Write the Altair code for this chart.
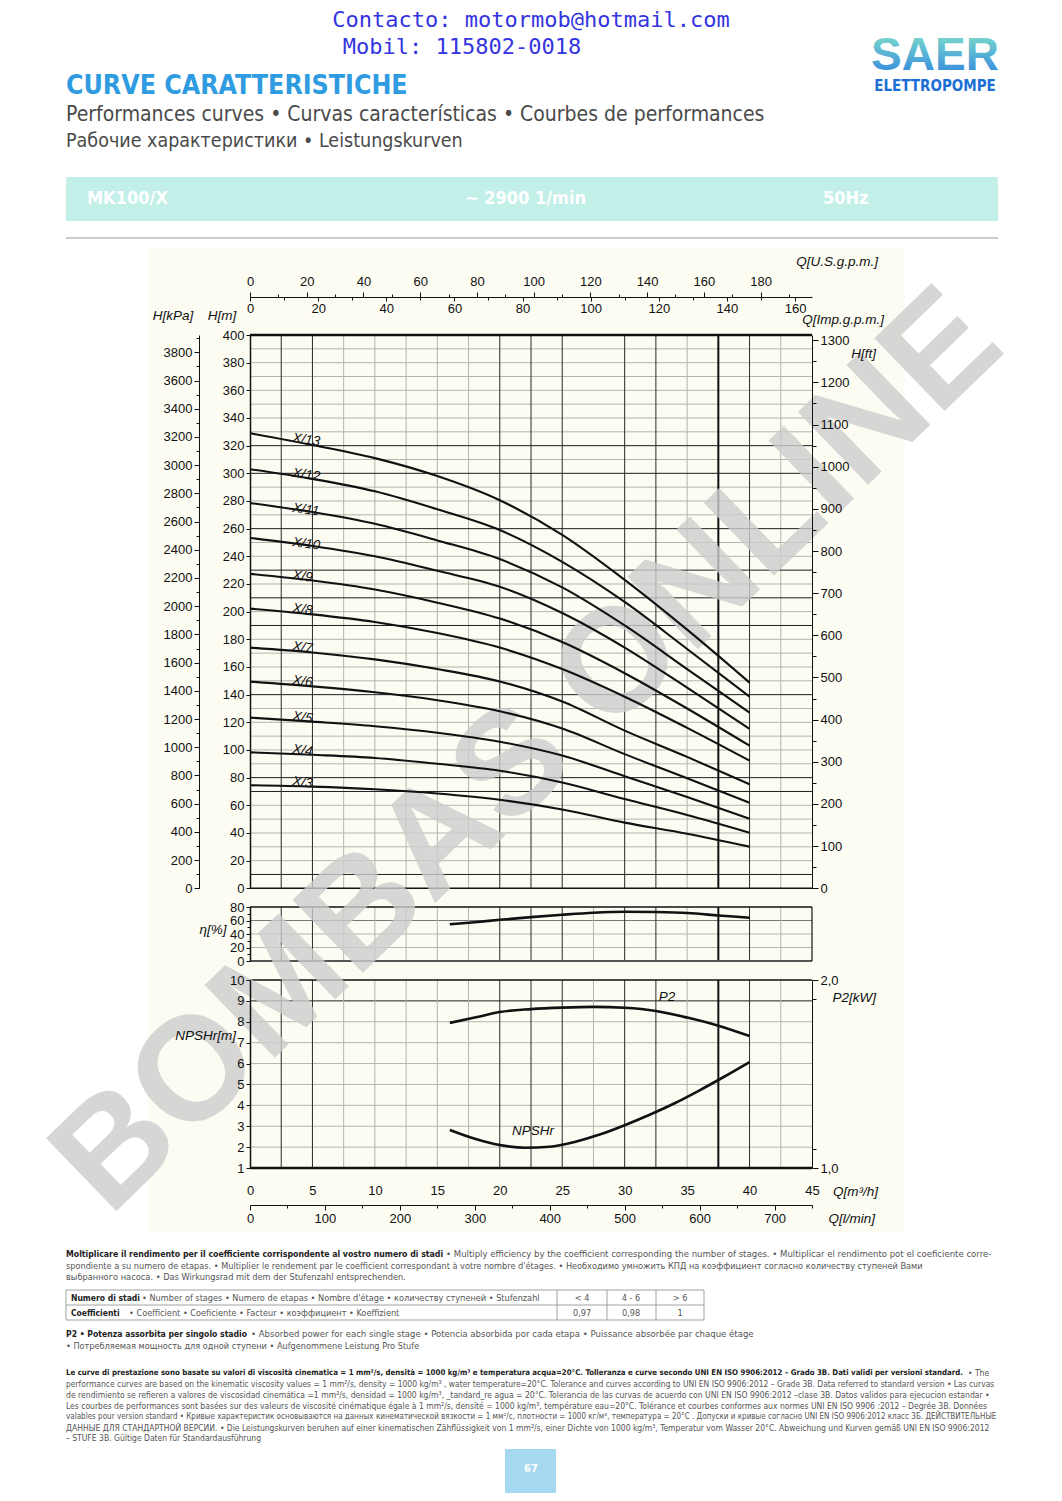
import altair as alt
import pandas as pd

# ------------------------------------------------------------------ data
Q_STAGE = [0, 5, 10, 15, 20, 25, 30, 35, 40]
STAGES = ["X/13", "X/12", "X/11", "X/10", "X/9", "X/8", "X/7", "X/6", "X/5", "X/4", "X/3"]
H_X13 = [329.0, 320.5, 311.0, 298.0, 280.5, 255.5, 223.0, 187.0, 148.7]
H_X12 = [303.0, 296.0, 287.0, 274.0, 259.0, 236.0, 207.0, 173.0, 138.5]
H_X11 = [278.6, 272.0, 263.5, 251.5, 238.0, 217.5, 190.0, 158.5, 127.0]
H_X10 = [253.3, 247.5, 240.0, 229.5, 218.0, 199.0, 174.0, 145.0, 115.2]
H_X9 = [227.3, 222.5, 216.0, 206.5, 195.0, 178.0, 155.5, 130.0, 103.1]
H_X8 = [202.2, 198.0, 192.5, 184.5, 174.0, 158.5, 138.5, 116.0, 92.3]
H_X7 = [174.0, 170.5, 165.5, 158.5, 149.5, 135.0, 114.0, 95.0, 75.2]
H_X6 = [149.4, 146.0, 141.7, 136.0, 128.0, 115.5, 97.0, 79.5, 61.9]
H_X5 = [123.4, 120.5, 117.2, 112.5, 106.0, 96.0, 81.0, 66.0, 50.3]
H_X4 = [98.3, 96.5, 94.2, 90.0, 85.0, 76.5, 64.5, 53.0, 40.2]
H_X3 = [74.5, 73.5, 71.6, 68.5, 64.0, 57.0, 47.5, 39.5, 30.1]
H_ALL = [H_X13, H_X12, H_X11, H_X10, H_X9, H_X8, H_X7, H_X6, H_X5, H_X4, H_X3]

LABEL_Q = [3.4] * 11
LABEL_H = [325.6, 300.3, 275.0, 250.4, 226.5, 202.7, 175.2, 150.6, 124.6, 100.7, 77.6]

Q_ETA = [16, 18, 20, 22.5, 25, 27.5, 30, 32.5, 35, 37.5, 40]
ETA = [54.5, 57.5, 61.0, 65.0, 68.5, 71.5, 73.0, 72.5, 71.0, 67.5, 64.0]

Q_NPSH = [16, 18, 20, 22, 24, 26, 28, 30, 32, 34, 36, 38, 40]
NPSH = [2.82, 2.40, 2.10, 1.97, 2.02, 2.25, 2.60, 3.05, 3.55, 4.10, 4.72, 5.38, 6.07]

Q_P2 = [16, 18, 20, 22.5, 25, 27.5, 30, 32.5, 35, 37.5, 40]
P2 = [1.772, 1.800, 1.830, 1.845, 1.853, 1.857, 1.852, 1.835, 1.800, 1.757, 1.702]

H_TICKS = list(range(0, 401, 20))
KPA_TICKS = list(range(0, 3801, 200))
FT_TICKS = list(range(0, 1301, 100))
USGPM_TICKS = list(range(0, 181, 20))
IMPGPM_TICKS = list(range(0, 161, 20))
LMIN_TICKS = list(range(0, 701, 100))
M3H_TICKS = list(range(0, 46, 5))
ETA_TICKS = [0, 20, 40, 60, 80]
NPSH_TICKS = list(range(1, 11))
P2_TICKS = [1.0, 1.2, 1.4, 1.6, 1.8, 2.0]

# grid lines as in the drawing
V_DARK = [2.5, 5, 20, 22.5, 25, 30, 32.5, 40]
V_THICK = [37.5]
V_LIGHT_MAIN = [7.5, 10, 12.5, 15, 17.5, 35, 42.5]
V_LIGHT_LOW = [7.5, 10, 12.5, 15, 17.5, 27.5, 35, 42.5]
H_DARK = [10, 70, 80, 140, 190, 210, 230, 260, 300, 320]

# ------------------------------------------------------------------ layout helpers
W, HT = 1046, 1485
M = 8


def gx(x):
    return x - M


def gy(y):
    return y - M


X_RANGE = [gx(250), gx(812)]
MAIN_Y = [gy(888.3), gy(335)]
ETA_Y = [gy(961), gy(907)]
NPSH_Y = [gy(1168), gy(980)]
Q_DOM = [0, 45]
MAIN_DOM = [0, 400]
ETA_DOM = [0, 80]
NPSH_DOM = [1, 10]
P2_DOM = [1, 2]

ONE = pd.DataFrame({"d": [0]})
layers = []

SANS = "Liberation Sans"
NARROW = "Liberation Sans Narrow, DejaVu Sans Condensed, Liberation Sans"


def sc(dom, rng):
    return alt.Scale(domain=dom, range=rng, nice=False, zero=False)


def text(x, y, s, size=13, color="#1a1a1a", font=SANS, weight="normal", style="normal",
         align="left", baseline="middle", angle=None, opacity=None):
    kw = dict(text=s, font=font, fontSize=size, fontWeight=weight, fontStyle=style,
              align=align, baseline=baseline, color=color)
    if angle is not None:
        kw["angle"] = angle
    if opacity is not None:
        kw["opacity"] = opacity
    layers.append(alt.Chart(ONE).mark_text(**kw).encode(x=alt.value(gx(x)), y=alt.value(gy(y))))


def rect(x0, y0, x1, y1, color, opacity=None):
    kw = dict(color=color)
    if opacity is not None:
        kw["opacity"] = opacity
    layers.append(alt.Chart(ONE).mark_rect(**kw).encode(
        x=alt.value(gx(x0)), x2=alt.value(gx(x1)), y=alt.value(gy(y0)), y2=alt.value(gy(y1))))


def hline(x0, x1, y, color, width=1.0):
    layers.append(alt.Chart(ONE).mark_rule(color=color, strokeWidth=width).encode(
        x=alt.value(gx(x0)), x2=alt.value(gx(x1)), y=alt.value(gy(y))))


def vline(x, y0, y1, color, width=1.0):
    layers.append(alt.Chart(ONE).mark_rule(color=color, strokeWidth=width).encode(
        x=alt.value(gx(x)), y=alt.value(gy(y0)), y2=alt.value(gy(y1))))


def axis_layer(ch, dom, rng, **axkw):
    enc = alt.X if ch == "x" else alt.Y
    base = dict(title=None, grid=False, labelFont=SANS, labelFontSize=13, labelColor="#111",
                tickColor="#111", domainColor="#111", zindex=1, labelFlush=False, format="d")
    base.update(axkw)
    df = pd.DataFrame({"v": [dom[0]]})
    layers.append(alt.Chart(df).mark_point(opacity=0).encode(
        **{ch: enc("v:Q", scale=sc(dom, rng), axis=alt.Axis(**base))}))


def vgrid(vals, ydom, yrng, color, width):
    n = len(vals)
    df = pd.DataFrame({"q": vals, "lo": [ydom[0]] * n, "hi": [ydom[1]] * n})
    layers.append(alt.Chart(df).mark_rule(color=color, strokeWidth=width).encode(
        x=alt.X("q:Q", scale=sc(Q_DOM, X_RANGE), axis=None),
        y=alt.Y("lo:Q", scale=sc(ydom, yrng), axis=None),
        y2="hi:Q"))


def hgrid(vals, ydom, yrng, color, width):
    n = len(vals)
    df = pd.DataFrame({"h": vals, "q0": [Q_DOM[0]] * n, "q1": [Q_DOM[1]] * n})
    layers.append(alt.Chart(df).mark_rule(color=color, strokeWidth=width).encode(
        x=alt.X("q0:Q", scale=sc(Q_DOM, X_RANGE), axis=None),
        x2="q1:Q",
        y=alt.Y("h:Q", scale=sc(ydom, yrng), axis=None)))


# ------------------------------------------------------------------ page background pieces
rect(148, 248, 905, 1232, "#fcfcf3")

# header
text(531, 20, "Contacto: motormob@hotmail.com", size=22, font="DejaVu Sans Mono", color="#3434e0", align="center")
text(462, 47, "Mobil: 115802-0018", size=22, font="DejaVu Sans Mono", color="#3434e0", align="center")
text(66, 86, "CURVE CARATTERISTICHE", size=26.5, font=NARROW, weight="bold", color="#2f9be0")
text(66, 115, "Performances curves • Curvas características • Courbes de performances", size=21, font=NARROW, color="#4a4a4a")
text(66, 141, "Рабочие характеристики • Leistungskurven", size=19.5, font=NARROW, color="#4a4a4a")
rect(66, 177, 998, 221, "#c3efe9")
text(87, 199, "MK100/X", size=18, font=NARROW, weight="bold", color="#ffffff")
text(465, 199, "~ 2900 1/min", size=18, font=NARROW, weight="bold", color="#ffffff")
text(823, 199, "50Hz", size=18, font=NARROW, weight="bold", color="#ffffff")
hline(66, 998, 238, "#9a9a9a", 1.2)

saer_grad = alt.LinearGradient(
    gradient="linear",
    stops=[alt.GradientStop(color="#86e6c8", offset=0), alt.GradientStop(color="#2b7fe0", offset=1)],
    x1=0, x2=0, y1=0, y2=1)
layers.append(alt.Chart(ONE).mark_text(text="SAER", font=SANS, fontSize=46, fontWeight="bold",
                                       align="center", baseline="middle", color=saer_grad)
              .encode(x=alt.value(gx(935)), y=alt.value(gy(56))))
text(935, 86, "ELETTROPOMPE", size=15, font=NARROW, weight="bold", color="#1b6fd6", align="center")

# ------------------------------------------------------------------ grids
# main panel
hgrid([v for v in range(10, 400, 10) if v not in H_DARK], MAIN_DOM, MAIN_Y, "#b4b4ac", 1)
vgrid(V_LIGHT_MAIN, MAIN_DOM, MAIN_Y, "#b4b4ac", 1)
hgrid(H_DARK, MAIN_DOM, MAIN_Y, "#1e1e1e", 1)
vgrid(V_DARK, MAIN_DOM, MAIN_Y, "#2a2a2a", 1)
vgrid(V_THICK, MAIN_DOM, MAIN_Y, "#111", 2)
hgrid([400], MAIN_DOM, MAIN_Y, "#111", 2.6)
hgrid([0], MAIN_DOM, MAIN_Y, "#111", 1.5)

# efficiency panel
hgrid([20, 40], ETA_DOM, ETA_Y, "#b4b4ac", 1)
hgrid([60], ETA_DOM, ETA_Y, "#777", 1)
vgrid(V_LIGHT_LOW, ETA_DOM, ETA_Y, "#b4b4ac", 1)
vgrid(V_DARK, ETA_DOM, ETA_Y, "#2a2a2a", 1)
vgrid(V_THICK, ETA_DOM, ETA_Y, "#111", 2)
hgrid([80], ETA_DOM, ETA_Y, "#111", 1.3)
hgrid([0], ETA_DOM, ETA_Y, "#555", 2.2)
vgrid([45], ETA_DOM, ETA_Y, "#111", 1.2)

# NPSH / P2 panel
hgrid([2, 3, 4, 5, 6, 7, 8], NPSH_DOM, NPSH_Y, "#b4b4ac", 1)
hgrid([9], NPSH_DOM, NPSH_Y, "#1e1e1e", 1)
vgrid(V_LIGHT_LOW, NPSH_DOM, NPSH_Y, "#b4b4ac", 1)
vgrid(V_DARK, NPSH_DOM, NPSH_Y, "#2a2a2a", 1)
vgrid(V_THICK, NPSH_DOM, NPSH_Y, "#111", 2)
hgrid([10], NPSH_DOM, NPSH_Y, "#111", 1.3)
hgrid([1], NPSH_DOM, NPSH_Y, "#111", 2.6)

# ------------------------------------------------------------------ watermark
text(528, 752, "BOMBAS ONLINE", size=147, font=SANS, weight="bold", color="#cdcdcd",
     align="center", angle=316, opacity=0.8)

# ------------------------------------------------------------------ curves
rows = []
for name, hs in zip(STAGES, H_ALL):
    for q, h in zip(Q_STAGE, hs):
        rows.append({"q": q, "h": h, "stage": name})
curves = pd.DataFrame(rows)
layers.append(alt.Chart(curves).mark_line(color="#111", strokeWidth=2.1, interpolate="monotone").encode(
    x=alt.X("q:Q", scale=sc(Q_DOM, X_RANGE), axis=None),
    y=alt.Y("h:Q", scale=sc(MAIN_DOM, MAIN_Y), axis=None),
    detail="stage:N"))

lab = pd.DataFrame({"q": LABEL_Q, "h": LABEL_H, "t": STAGES})
layers.append(alt.Chart(lab).mark_text(font=SANS, fontSize=13.5, fontStyle="italic", align="left",
                                       baseline="middle", angle=8, color="#111").encode(
    x=alt.X("q:Q", scale=sc(Q_DOM, X_RANGE), axis=None),
    y=alt.Y("h:Q", scale=sc(MAIN_DOM, MAIN_Y), axis=None),
    text="t:N"))

eta_df = pd.DataFrame({"q": Q_ETA, "v": ETA})
layers.append(alt.Chart(eta_df).mark_line(color="#111", strokeWidth=2.6, interpolate="monotone").encode(
    x=alt.X("q:Q", scale=sc(Q_DOM, X_RANGE), axis=None),
    y=alt.Y("v:Q", scale=sc(ETA_DOM, ETA_Y), axis=None)))

npsh_df = pd.DataFrame({"q": Q_NPSH, "v": NPSH})
layers.append(alt.Chart(npsh_df).mark_line(color="#111", strokeWidth=2.6, interpolate="monotone").encode(
    x=alt.X("q:Q", scale=sc(Q_DOM, X_RANGE), axis=None),
    y=alt.Y("v:Q", scale=sc(NPSH_DOM, NPSH_Y), axis=None)))

p2_df = pd.DataFrame({"q": Q_P2, "v": P2})
layers.append(alt.Chart(p2_df).mark_line(color="#111", strokeWidth=2.6, interpolate="monotone").encode(
    x=alt.X("q:Q", scale=sc(Q_DOM, X_RANGE), axis=None),
    y=alt.Y("v:Q", scale=sc(P2_DOM, NPSH_Y), axis=None)))

# ------------------------------------------------------------------ axes
# H[m] (left, at plot edge)
axis_layer("y", MAIN_DOM, MAIN_Y, orient="left", offset=-gx(250), values=H_TICKS, tickSize=4,
           labelPadding=2, domainWidth=1.5)
# H[kPa]
KPA_DOM = [0, 400 * 9.80665]
axis_layer("y", KPA_DOM, MAIN_Y, orient="left", offset=-gx(199), values=KPA_TICKS, tickSize=5,
           labelPadding=2)
axis_layer("y", KPA_DOM, MAIN_Y, orient="left", offset=-gx(199), values=[v + 100 for v in KPA_TICKS],
           tickSize=3, labels=False, domain=False)
# H[ft]
FT_DOM = [0, 400 * 3.28084]
axis_layer("y", FT_DOM, MAIN_Y, orient="right", offset=gx(812) - W, values=FT_TICKS, tickSize=6,
           labelPadding=2)
axis_layer("y", FT_DOM, MAIN_Y, orient="right", offset=gx(812) - W, values=[v + 50 for v in FT_TICKS[:-1]],
           tickSize=4, labels=False, domain=False)
# US gpm (top) and Imp gpm (below same line)
US_DOM = [0, 45 * 4.40287]
IMP_DOM = [0, 45 * 3.66615]
axis_layer("x", US_DOM, X_RANGE, orient="top", offset=-gy(297), values=USGPM_TICKS, tickSize=5,
           labelPadding=4)
axis_layer("x", US_DOM, X_RANGE, orient="top", offset=-gy(297), values=[v + 10 for v in USGPM_TICKS],
           tickSize=3, labels=False, domain=False)
axis_layer("x", IMP_DOM, X_RANGE, orient="bottom", offset=gy(297) - HT, values=IMPGPM_TICKS, tickSize=4,
           labelPadding=1, domain=False)
axis_layer("x", IMP_DOM, X_RANGE, orient="bottom", offset=gy(297) - HT, values=[v + 10 for v in IMPGPM_TICKS[:-1]],
           tickSize=3, labels=False, domain=False)
# efficiency
axis_layer("y", ETA_DOM, ETA_Y, orient="left", offset=-gx(250), values=ETA_TICKS, tickSize=4,
           labelPadding=2, domainWidth=1.5)
axis_layer("y", ETA_DOM, ETA_Y, orient="left", offset=-gx(250), values=[10, 30, 50, 70], tickSize=3,
           labels=False, domain=False)
# NPSH
axis_layer("y", NPSH_DOM, NPSH_Y, orient="left", offset=-gx(250), values=NPSH_TICKS, tickSize=4,
           labelPadding=2, domainWidth=1.5)
# P2
axis_layer("y", P2_DOM, NPSH_Y, orient="right", offset=gx(812) - W, values=P2_TICKS, tickSize=6,
           labelPadding=2, labelExpr="replace(format(datum.value, '.1f'), '.', ',')")
axis_layer("y", P2_DOM, NPSH_Y, orient="right", offset=gx(812) - W, values=[1.1, 1.3, 1.5, 1.7, 1.9],
           tickSize=4, labels=False, domain=False)
# Q m3/h labels and l/min axis
axis_layer("x", Q_DOM, X_RANGE, orient="bottom", offset=gy(1184) - HT, values=M3H_TICKS, ticks=False,
           domain=False, labelPadding=0)
LMIN_DOM = [0, 750]
axis_layer("x", LMIN_DOM, X_RANGE, orient="bottom", offset=gy(1205) - HT, values=LMIN_TICKS, tickSize=5,
           labelPadding=2)
axis_layer("x", LMIN_DOM, X_RANGE, orient="bottom", offset=gy(1205) - HT, values=[v + 50 for v in LMIN_TICKS],
           tickSize=3, labels=False, domain=False)

# ------------------------------------------------------------------ axis titles / curve names
it = dict(size=13.5, style="italic", color="#111")
text(878, 262, "Q[U.S.g.p.m.]", align="right", **it)
text(173, 316, "H[kPa]", align="center", **it)
text(222, 316, "H[m]", align="center", **it)
text(884, 320, "Q[Imp.g.p.m.]", align="right", **it)
text(876, 354, "H[ft]", align="right", **it)
text(213, 930, "η[%]", align="center", **it)
text(236, 1036, "NPSHr[m]", align="right", **it)
text(876, 998, "P2[kW]", align="right", **it)
text(667, 997, "P2", align="center", **it)
text(533, 1131, "NPSHr", align="center", **it)
text(878, 1192, "Q[m³/h]", align="right", **it)
text(875, 1219, "Q[l/min]", align="right", **it)

# ------------------------------------------------------------------ footer
def fb(size):
    return dict(size=size, font=NARROW, weight="bold", color="#222")


def fr(size):
    return dict(size=size, font=NARROW, color="#555")


text(66, 1254, "Moltiplicare il rendimento per il coefficiente corrispondente al vostro numero di stadi", **fb(8.7))
text(446, 1254, "• Multiply efficiency by the coefficient corresponding the number of stages. • Multiplicar el rendimento pot el coeficiente corre-", **fr(9.5))
text(66, 1266, "spondiente a su numero de etapas. • Multiplier le rendement par le coefficient correspondant à votre nombre d'étages. • Необходимо умножить КПД на коэффициент согласно количеству ступеней Вами", **fr(9.1))
text(66, 1277, "выбранного насоса. • Das Wirkungsrad mit dem der Stufenzahl entsprechenden.", **fr(9.2))

for yy in [1290, 1305, 1320]:
    hline(66, 704, yy, "#8a8a8a", 0.8)
for xx in [66, 557, 607, 656, 704]:
    vline(xx, 1290, 1320, "#8a8a8a", 0.8)
text(71, 1297.5, "Numero di stadi", **fb(8.5))
text(142, 1297.5, "• Number of stages • Numero de etapas • Nombre d'étage • количеству ступеней • Stufenzahl", **fr(9.1))
text(71, 1312.5, "Coefficienti", **fb(8.5))
text(129, 1312.5, "• Coefficient • Coeficiente • Facteur • коэффициент • Koeffizient", **fr(9.1))
for xx, s1, s2 in [(582, "< 4", "0,97"), (631, "4 - 6", "0,98"), (680, "> 6", "1")]:
    text(xx, 1297.5, s1, align="center", **fr(9.1))
    text(xx, 1312.5, s2, align="center", **fr(9.1))

text(66, 1334, "P2 • Potenza assorbita per singolo stadio", **fb(8.6))
text(251, 1334, "• Absorbed power for each single stage • Potencia absorbida por cada etapa • Puissance absorbée par chaque étage", **fr(9.5))
text(66, 1346, "• Потребляемая мощность для одной ступени • Aufgenommene Leistung Pro Stufe", **fr(9.1))

text(66, 1373, "Le curve di prestazione sono basate su valori di viscosità cinematica = 1 mm²/s, densità = 1000 kg/m³ e temperatura acqua=20°C. Tolleranza e curve secondo UNI EN ISO 9906:2012 – Grado 3B. Dati validi per versioni standard.", **fb(7.8))
text(968, 1373, "• The", **fr(8.5))
text(66, 1384, "performance curves are based on the kinematic viscosity values = 1 mm²/s, density = 1000 kg/m³ , water temperature=20°C. Tolerance and curves according to UNI EN ISO 9906:2012 – Grade 3B. Data referred to standard version • Las curvas", **fr(8.45))
text(66, 1395, "de rendimiento se refieren a valores de viscosidad cinemática =1 mm²/s,  densidad = 1000 kg/m³, _tandard_re agua = 20°C. Tolerancia de las curvas de acuerdo con UNI EN ISO 9906:2012 –clase 3B. Datos validos para ejecucion estandar •", **fr(8.55))
text(66, 1406, "Les courbes de performances sont basées sur des valeurs de viscosité cinématique égale à 1 mm²/s, densité = 1000 kg/m³, température eau=20°C. Tolérance et courbes conformes aux normes UNI EN ISO 9906 :2012 – Degrée 3B. Données", **fr(8.5))
text(66, 1417, "valables pour version standard • Кривые характеристик основываются на данных кинематической вязкости = 1 мм²/с, плотности = 1000 кг/м³, температура = 20°C . Допуски и кривые согласно UNI EN ISO 9906:2012 класс 3Б. ДЕЙСТВИТЕЛЬНЫЕ", **fr(8.0))
text(66, 1428, "ДАННЫЕ ДЛЯ СТАНДАРТНОЙ ВЕРСИИ. • Die Leistungskurven beruhen auf einer kinematischen Zähflüssigkeit von 1 mm²/s, einer Dichte von 1000 kg/m³, Temperatur vom Wasser 20°C. Abweichung und Kurven gemäß UNI EN ISO 9906:2012", **fr(8.5))
text(66, 1438, "– STUFE 3B. Gültige Daten für Standardausführung", **fr(8.5))

rect(505, 1449, 556, 1501, "#a6d9ef")
text(531, 1469, "67", size=11, font=NARROW, weight="bold", color="#ffffff", align="center")

# ------------------------------------------------------------------ assemble
chart = alt.layer(*layers).resolve_scale(x="independent", y="independent").properties(
    width=W, height=HT, padding=0, autosize=alt.AutoSizeParams(type="none"), background="#ffffff"
).configure_view(strokeWidth=0)

chart.save("out.html", embed_options={"renderer": "svg", "actions": False})
